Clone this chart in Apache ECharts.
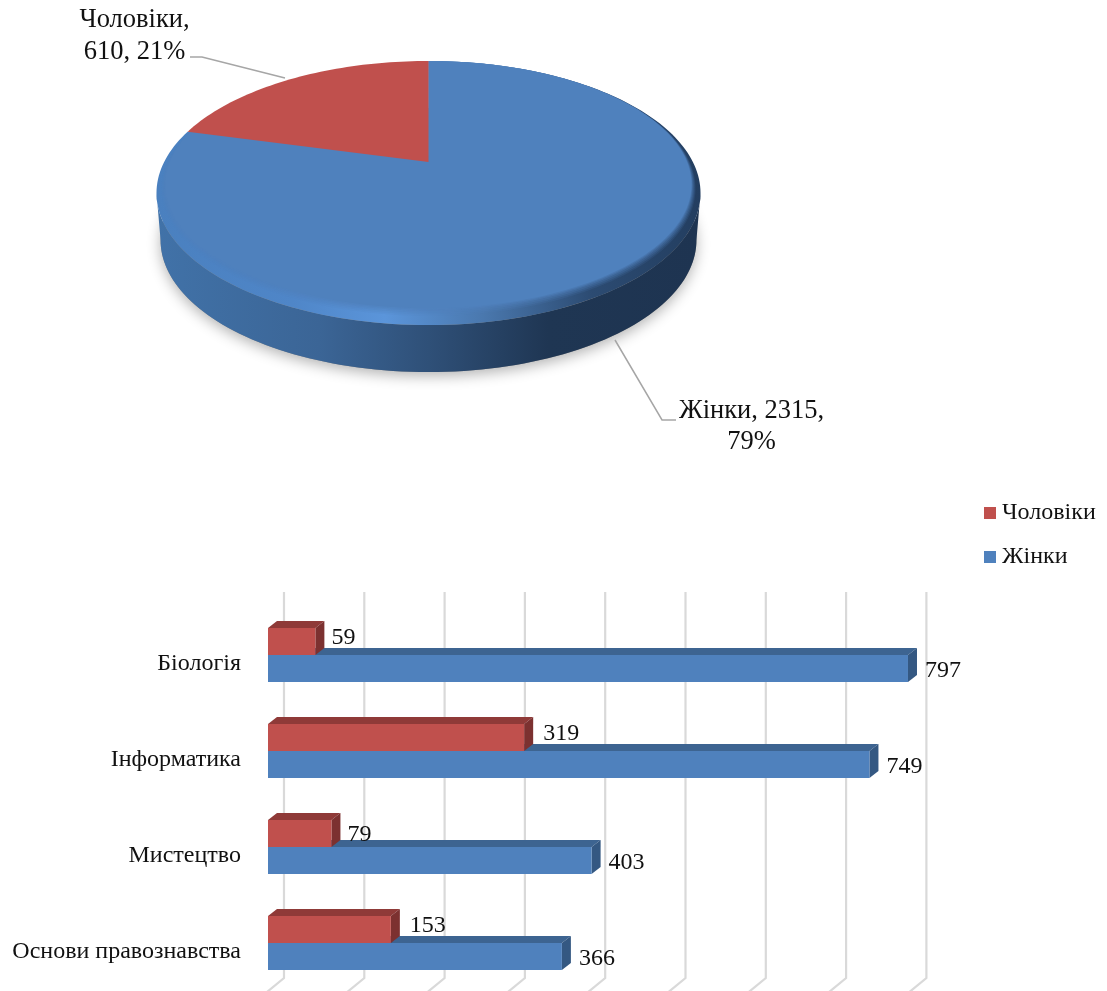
<!DOCTYPE html>
<html>
<head>
<meta charset="utf-8">
<style>html,body{margin:0;padding:0;background:#fff}#c{width:1107px;height:991px}</style>
<script src="https://cdn.jsdelivr.net/npm/echarts@6/dist/echarts.min.js"></script>
</head>
<body>
<div id="c"></div>
<script>
// ---- data ----
const pieNames = ['Жінки', 'Чоловіки'];
const pieValues = [2315, 610];
const subjects = ['Біологія', 'Інформатика', 'Мистецтво', 'Основи правознавства'];
const menValues = [59, 319, 79, 153];
const womenValues = [797, 749, 403, 366];
const gridTicks = [0, 100, 200, 300, 400, 500, 600, 700, 800];

// ---- layout / style ----
const FONT = '"Liberation Serif","Times New Roman",serif';
const pieGeo = { cx: 428.5, apexY: 162, a: -86.7, c: 0.235, s: 264.4, depth: 47, bottomScale: 0.985 };
const pieFill = { 'Жінки': '#4f81bd', 'Чоловіки': '#c0504d' };
const pieLabels = {
  'Жінки': { x: 751.5, y: 426.5, lines: v => `Жінки, ${v.value},\n${v.pct}%`, leader: [[615, 340], [662, 420], [676, 420]] },
  'Чоловіки': { x: 134.5, y: 36, lines: v => `Чоловіки,\n${v.value}, ${v.pct}%`, leader: [[190, 57], [202, 57], [285, 78]] }
};
const menLabelOffsets = [[0, -4], [3, -4], [0, 1], [3, -4]];
const bar3d = { width: 27, dx: 9, dy: 7 };
const wall = { dx: 16, topAbove: 63, bottomBelow: 35, floorDrop: 14 };
const rad = d => d * Math.PI / 180;
const total = pieValues.reduce((a, b) => a + b, 0);

function project(deg) {
  const u = Math.sin(rad(deg)), v = Math.cos(rad(deg));
  const g = pieGeo, d = 1 + g.c * v;
  return [g.cx + g.s * u / d, (g.apexY + g.a * v) / d];
}
function arc(from, to) {
  const pts = [], n = Math.max(2, Math.ceil(Math.abs(to - from) / 1.5));
  for (let i = 0; i <= n; i++) pts.push(project(from + (to - from) * i / n));
  return pts;
}
const topY = project(0)[1];
const inset = (p, f) => [pieGeo.cx + (p[0] - pieGeo.cx) * (1 - 0.033 * f), topY + (p[1] - topY) * (1 - 0.064 * f)];
const lower = p => [pieGeo.cx + (p[0] - pieGeo.cx) * pieGeo.bottomScale, p[1] + pieGeo.depth];
const linear = stops => ({
  type: 'linear', x: 0, y: 0, x2: 1, y2: 0,
  colorStops: stops.map(s => ({ offset: s[0], color: s[1] }))
});

function renderPie(params) {
  const i = params.dataIndex, name = pieNames[i], value = pieValues[i];
  const before = pieValues.slice(0, i).reduce((a, b) => a + b, 0);
  const from = before / total * 360, to = (before + value) / total * 360;
  const apex = [pieGeo.cx, pieGeo.apexY];
  const children = [];
  const frontFrom = Math.max(from, 103.6), frontTo = Math.min(to, 256.4);
  if (frontTo > frontFrom) {
    const front = arc(frontFrom, frontTo);
    children.push({
      type: 'polygon', shape: { points: arc(0, 360).map(lower) },
      style: { fill: '#8a8a8a', shadowColor: 'rgba(0,0,0,0.3)', shadowBlur: 14, shadowOffsetY: 4 }
    });
    children.push({
      type: 'polygon', shape: { points: front.concat(front.map(lower).reverse()) },
      style: { fill: linear([[0, '#4172a8'], [0.3, '#3b6596'], [0.5, '#2f5078'], [0.72, '#1f3653'], [1, '#1e3451']]) }
    });
    children.push({
      type: 'polygon', shape: { points: [apex].concat(arc(from, to)) },
      style: { fill: linear([[0, '#4a80bf'], [0.25, '#4f86c8'], [0.42, '#5b95da'], [0.6, '#4a78ae'], [0.8, '#2c4b72'], [1, '#233e60']]) }
    });
    [[0.55, 0.15], [0.65, 0.2], [0.75, 0.25], [0.85, 0.35], [0.93, 0.5], [1, 1]].forEach(function (layer) {
      children.push({
        type: 'polygon',
        shape: { points: [inset(apex, layer[0])].concat(arc(from, to).map(p => inset(p, layer[0]))) },
        style: { fill: pieFill[name], opacity: layer[1] }
      });
    });
  } else {
    children.push({
      type: 'polygon', shape: { points: [apex].concat(arc(from, to)) },
      style: { fill: pieFill[name] }
    });
  }
  const lab = pieLabels[name];
  children.push({
    type: 'polyline', shape: { points: lab.leader },
    style: { stroke: '#a6a6a6', lineWidth: 1.5, fill: null }
  });
  children.push({
    type: 'text',
    style: {
      x: lab.x, y: lab.y, text: lab.lines({ value, pct: Math.round(value / total * 100) }),
      align: 'center', verticalAlign: 'middle', fill: '#111', font: '26.5px ' + FONT, lineHeight: 31.5
    }
  });
  return { type: 'group', children };
}

function renderWall(params, api) {
  const tick = api.value(0);
  const t = api.coord([tick, 0]), b = api.coord([tick, subjects.length - 1]);
  const x = t[0] + wall.dx, y0 = t[1] - wall.topAbove, y1 = b[1] + wall.bottomBelow;
  return {
    type: 'polyline',
    shape: { points: [[x, y0], [x, y1], [x - wall.dx - 1, y1 + wall.floorDrop]] },
    style: { stroke: '#d9d9d9', lineWidth: 2.2, fill: null }
  };
}

function faces(above, topColor, sideColor) {
  return function (params, api) {
    const p = api.coord([api.value(0), api.value(1)]);
    const left = api.coord([0, api.value(1)])[0];
    const y0 = above ? p[1] - bar3d.width : p[1];
    const y1 = y0 + bar3d.width, x = p[0], dx = bar3d.dx, dy = bar3d.dy;
    return {
      type: 'group',
      children: [
        { type: 'polygon', shape: { points: [[left, y0], [x, y0], [x + dx, y0 - dy], [left + dx, y0 - dy]] }, style: { fill: topColor } },
        { type: 'polygon', shape: { points: [[x, y0], [x + dx, y0 - dy], [x + dx, y1 - dy], [x, y1]] }, style: { fill: sideColor } }
      ]
    };
  };
}

const chart = echarts.init(document.getElementById('c'), null, { renderer: 'canvas' });
chart.setOption({
  animation: false,
  backgroundColor: '#fff',
  tooltip: { show: false },
  legend: {
    data: ['Чоловіки', 'Жінки'], orient: 'vertical', left: 979, top: 496,
    itemWidth: 12, itemHeight: 12, itemGap: 20, selectedMode: false,
    icon: 'rect', textStyle: { fontFamily: FONT, fontSize: 24, color: '#111', padding: [0, 0, 0, 1] }
  },
  grid: { left: 268, top: 607, width: 642.4, height: 384, containLabel: false },
  xAxis: { type: 'value', min: 0, max: 800, interval: 100, show: false, splitLine: { show: false } },
  yAxis: {
    type: 'category', data: subjects, inverse: true,
    axisLine: { show: false }, axisTick: { show: false }, splitLine: { show: false },
    axisLabel: { margin: 27, fontFamily: FONT, fontSize: 24, color: '#111', verticalAlign: 'top', lineHeight: 17 }
  },
  series: [
    {
      type: 'custom', name: 'pie', coordinateSystem: 'none', silent: true, z: 5,
      data: pieValues.map((v, i) => ({ name: pieNames[i], value: v })), renderItem: renderPie
    },
    {
      type: 'custom', name: 'wall', silent: true, z: 1, clip: false,
      data: gridTicks.map(t => [t]), encode: { x: 0 }, renderItem: renderWall
    },
    {
      type: 'bar', name: 'Чоловіки', z: 3,
      data: menValues.map((v, i) => ({ value: v, label: { offset: menLabelOffsets[i] } })),
      barWidth: bar3d.width, barGap: 0, itemStyle: { color: '#c0504d' },
      label: { show: true, position: 'right', distance: 16, fontFamily: FONT, fontSize: 24, color: '#111' }
    },
    {
      type: 'bar', name: 'Жінки', data: womenValues, z: 2,
      barWidth: bar3d.width, barGap: 0, itemStyle: { color: '#4f81bd' },
      label: { show: true, position: 'right', distance: 17, offset: [0, 2], fontFamily: FONT, fontSize: 24, color: '#111' }
    },
    {
      type: 'custom', name: 'womenFaces', silent: true, z: 2, clip: false,
      data: womenValues.map((v, i) => [v, i]), encode: { x: 0, y: 1 },
      renderItem: faces(false, '#3d6491', '#345882')
    },
    {
      type: 'custom', name: 'menFaces', silent: true, z: 3, clip: false,
      data: menValues.map((v, i) => [v, i]), encode: { x: 0, y: 1 },
      renderItem: faces(true, '#8f3a38', '#7c3130')
    }
  ]
});
</script>
</body>
</html>
